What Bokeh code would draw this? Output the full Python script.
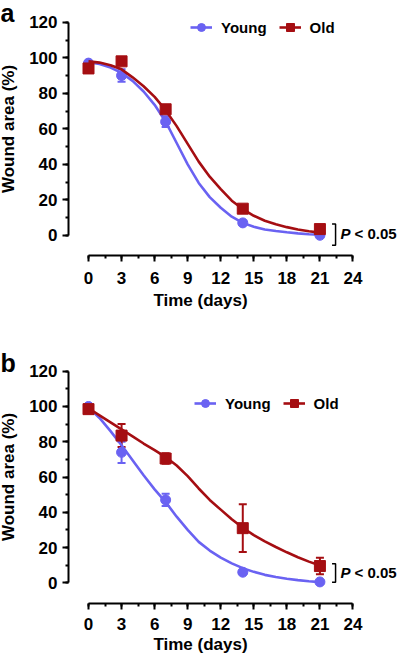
from bokeh.plotting import figure
from bokeh.models import (ColumnDataSource, Whisker, TeeHead, FixedTicker, Range1d,
                          Legend, LegendItem, Label)
from bokeh.layouts import column
from bokeh.embed import file_html
from bokeh.resources import INLINE

# ---------------- data ----------------
days = [0, 3, 7, 14, 21]
fit_days = list(range(0, 22))
x_ticks = [0, 3, 6, 9, 12, 15, 18, 21, 24]
x_minor = [0, 1.5, 3, 4.5, 6, 7.5, 9, 10.5, 12, 13.5, 15, 16.5, 18, 19.5, 21, 22.5, 24]
y_ticks = [0, 20, 40, 60, 80, 100, 120]
y_minor = [0, 10, 20, 30, 40, 50, 60, 70, 80, 90, 100, 110, 120]

# panel a
young_a = [97, 90, 64, 7, 0]
young_a_err = [0.5, 3.5, 3, 1, 0.5]
old_a = [94, 98, 71, 15, 3.5]
old_a_err = [1, 1, 1.5, 1, 1]
young_a_fit = [97.5, 96.5, 94.5, 91.5, 87, 81, 73.5, 64, 52, 40, 29.5, 21.5, 15.5,
               10.5, 7, 4.8, 3.3, 2.4, 1.7, 1.1, 0.6, 0.3]
old_a_fit = [98, 97.3, 95.8, 93.5, 89, 84, 78, 70.5, 61.5, 51.5, 41.5, 33, 26,
             19.5, 14.8, 11, 8.2, 6.2, 4.6, 3.3, 2.3, 1.5]

# panel b
young_b = [100, 74, 47, 6, 0.5]
young_b_err = [1, 6, 3.5, 1, 0.5]
old_b = [98.5, 83.5, 70.5, 31, 9.5]
old_b_err = [1.5, 6.5, 3, 13.5, 4.7]
young_b_fit = [99.5, 93.5, 86, 78, 69.5, 61, 53, 45.8, 37.5, 30, 23.2, 18.3, 14.3,
               11, 8.3, 6.2, 4.5, 3.3, 2.3, 1.5, 0.9, 0.4]
old_b_fit = [99, 95, 91, 87, 83, 79, 75.3, 71.3, 66.5, 60.5, 53.5, 47, 41.5,
             36, 31.2, 27, 23.5, 20.3, 17.3, 14.5, 12, 9.8]

series_labels = ["Young", "Old"]
p_text = "< 0.05"

# ---------------- style ----------------
BLUE = "#6A62F2"
RED = "#A50E12"
FONT = "Liberation Sans"
X_PX = 11.02          # pixels per day
X_START = -88 / X_PX  # frame spans the full figure width
X_END = (400 - 88) / X_PX
Y_AXIS_AT = -20 / X_PX


def make_panel(letter, young, young_err, young_fit, old, old_err, old_fit,
               height, y_start, y_end, border_bottom, x_standoffs,
               legend_loc, p_y, bracket, letter_y):
    p = figure(width=400, height=height, output_backend="svg", toolbar_location=None,
               x_range=Range1d(X_START, X_END), y_range=Range1d(y_start, y_end),
               min_border_left=0, min_border_right=0,
               min_border_top=0, min_border_bottom=border_bottom)
    p.outline_line_color = None
    p.xgrid.visible = False
    p.ygrid.visible = False
    p.background_fill_color = "white"
    p.border_fill_color = "white"

    for ax, ticks, minor, bnds in ((p.xaxis[0], x_ticks, x_minor, (0, 24)),
                                   (p.yaxis[0], y_ticks, y_minor, (0, 120))):
        ax.ticker = FixedTicker(ticks=ticks, minor_ticks=minor)
        ax.bounds = bnds
        ax.axis_line_width = 2
        ax.axis_line_color = "black"
        ax.major_tick_line_width = 2
        ax.minor_tick_line_width = 2
        ax.major_tick_in = 0
        ax.minor_tick_in = 0
        ax.major_tick_out = 6
        ax.minor_tick_out = 3
        ax.major_label_text_font = FONT
        ax.major_label_text_font_style = "bold"
        ax.major_label_text_font_size = "17px"
        ax.major_label_text_color = "black"
        ax.axis_label_text_font = FONT
        ax.axis_label_text_font_style = "bold"
        ax.axis_label_text_font_size = "17px"
        ax.axis_label_text_color = "black"

    p.yaxis[0].fixed_location = Y_AXIS_AT
    p.xaxis.axis_label = "Time (days)"
    p.yaxis.axis_label = "Wound area (%)"
    p.xaxis.major_label_standoff = x_standoffs[0]
    p.xaxis.axis_label_standoff = x_standoffs[1]
    p.yaxis.major_label_standoff = 5
    p.yaxis.axis_label_standoff = 8

    renderers = []
    for vals, errs, fit, color, marker, size in (
            (young, young_err, young_fit, BLUE, "circle", 10),
            (old, old_err, old_fit, RED, "square", 11)):
        src = ColumnDataSource(dict(x=days, y=vals,
                                    upper=[v + e for v, e in zip(vals, errs)],
                                    lower=[v - e for v, e in zip(vals, errs)]))
        w = Whisker(source=src, base="x", upper="upper", lower="lower",
                    line_color=color, line_width=2,
                    upper_head=TeeHead(size=8, line_color=color, line_width=2),
                    lower_head=TeeHead(size=8, line_color=color, line_width=2))
        p.add_layout(w)
        ln = p.line(fit_days, fit, line_color=color, line_width=2.6)
        sc = p.scatter("x", "y", source=src, marker=marker, size=size,
                       fill_color=color, line_color=color)
        renderers.append((ln, sc))

    legend = Legend(items=[LegendItem(label=series_labels[0], renderers=list(renderers[0])),
                           LegendItem(label=series_labels[1], renderers=list(renderers[1]))],
                    orientation="horizontal", location=legend_loc,
                    glyph_width=22, glyph_height=20, label_standoff=9, spacing=12,
                    padding=0, margin=0, border_line_color=None,
                    background_fill_alpha=0,
                    label_text_font=FONT, label_text_font_style="bold",
                    label_text_font_size="15px", label_text_color="black")
    p.add_layout(legend)

    # significance bracket and P text
    top, bottom = bracket
    p.line([22.1, 22.42, 22.42, 22.1], [top, top, bottom, bottom],
           line_color="black", line_width=1.5)
    p.add_layout(Label(x=22.87, y=p_y, text="P", text_font=FONT,
                       text_font_style="bold italic", text_font_size="15px",
                       text_baseline="middle", text_align="left", text_color="black"))
    p.add_layout(Label(x=24.14, y=p_y, text=p_text, text_font=FONT,
                       text_font_style="bold", text_font_size="15px",
                       text_baseline="middle", text_align="left", text_color="black"))

    p.add_layout(Label(x=0, y=letter_y, x_units="screen", y_units="data", text=letter,
                       text_font=FONT, text_font_style="bold", text_font_size="25px",
                       text_baseline="alphabetic", text_align="left", text_color="black"))
    return p


pa = make_panel("a", young_a, young_a_err, young_a_fit, old_a, old_a_err, old_a_fit,
                height=330, y_start=-11.38, y_end=132.28, border_bottom=75,
                x_standoffs=(10, 4),
                legend_loc=(190, 218), p_y=1.0, bracket=(6.3, -5.6), letter_y=125.0)
pb = make_panel("b", young_b, young_b_err, young_b_fit, old_b, old_b_err, old_b_fit,
                height=328, y_start=-11.74, y_end=143.1, border_bottom=55,
                x_standoffs=(8, 2),
                legend_loc=(194, 190), p_y=6.0, bracket=(10.8, 0.3), letter_y=124.4)

layout = column(pa, pb, spacing=0)
open("out.html", "w").write(file_html(layout, INLINE))
